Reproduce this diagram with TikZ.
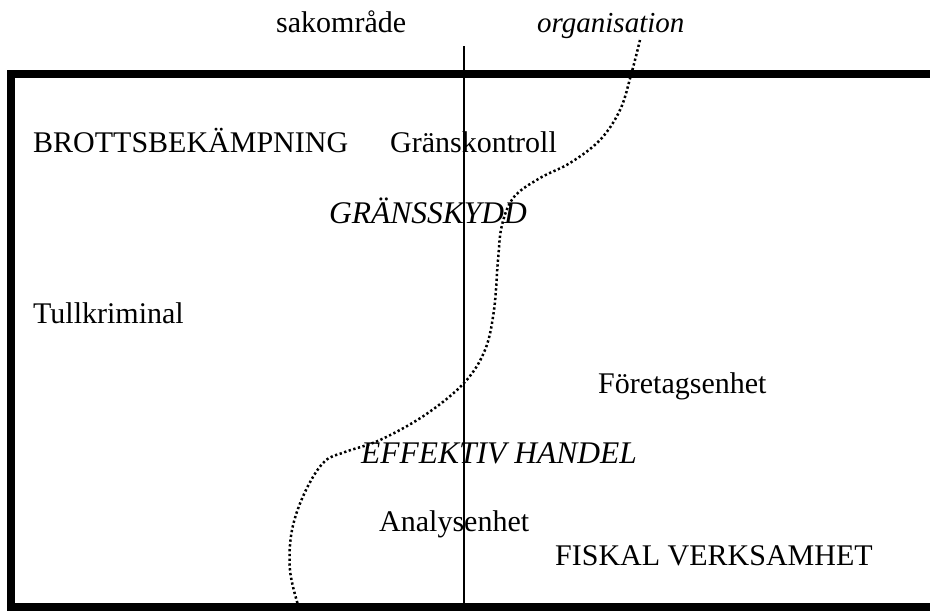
\documentclass[tikz,border=0pt]{standalone}
\usepackage{fontspec}
\setmainfont{Liberation Serif}
\begin{document}
\begin{tikzpicture}[x=1pt,y=-1pt,
  lbl/.style={anchor=base west,inner sep=0pt,font=\fontsize{30}{30}\selectfont},
  ilbl/.style={lbl,font=\fontsize{31.5}{31.5}\selectfont\itshape},
  frame/.style={line width=8pt},
  axis/.style={line width=1.4pt},
  orgline/.style={line width=2.5pt,dash pattern=on 2.3pt off 2.5pt}]
\useasboundingbox (0,0) rectangle (930,614);
\clip (0,0) rectangle (930,614);
% frame
\draw[frame] (960,74) -- (10.5,74) -- (10.5,607) -- (960,607);
% vertical divider
\coordinate (vtop) at (464,46);
\coordinate (vbot) at (464,607);
\draw[axis] (vtop) -- (vbot);
% labels
\node[lbl]  (sak)  at (276,32)  {sakområde};
\node[lbl,font=\fontsize{29}{29}\selectfont\itshape] (org) at (537,32) {organisation};
\node[lbl]  (brott) at (33,152) {BROTTSBEKÄMPNING};
\node[lbl]  (grans) at (390,152) {Gränskontroll};
\node[ilbl] (skydd) at (329,223) {GRÄNSSKYDD};
\node[lbl]  (tull) at (33,323) {Tullkriminal};
\node[lbl]  (foret) at (598,393) {Företagsenhet};
\node[ilbl] (effekt) at (361,463) {EFFEKTIV HANDEL};
\node[lbl]  (analys) at (379,531) {Analysenhet};
\node[lbl]  (fiskal) at (555,565) {FISKAL VERKSAMHET};
% organisation boundary (dotted)
\draw[orgline] plot[smooth,tension=0.6] coordinates {
  (640,40) (631,75) (620,110) (600,140) (570,163) (540,178) (514,197)
  (502,225) (498,260) (494,310) (485,350) (464,383) (425,415)
  (380,440) (345,452) (324,462) (305,492) (292,530) (290,570) (298,605)};
\end{tikzpicture}
\end{document}
